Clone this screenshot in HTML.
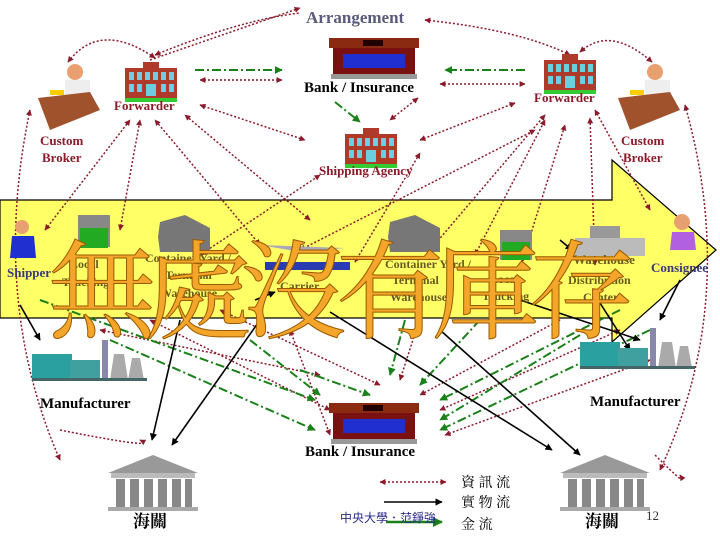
<!DOCTYPE html>
<html><head><meta charset="utf-8"><style>
html,body{margin:0;padding:0;background:#fff}
svg{display:block}
.lb{font-family:"Liberation Serif",serif;font-weight:bold;fill:#8b1a2a;font-size:13px}
.bk{font-family:"Liberation Serif",serif;font-weight:bold;fill:#000;font-size:15px}
.nv{font-family:"Liberation Serif",serif;font-weight:bold;fill:#3a3a7a;font-size:13px}
.tl{font-family:"Liberation Serif",serif;font-weight:bold;fill:#6a5a20;font-size:12px}
.r{stroke:#8b1a2a;stroke-width:1.5;stroke-dasharray:2 2;fill:none}
.g{stroke:#1a801a;stroke-width:2;stroke-dasharray:9 3 2 3;fill:none}
.k{stroke:#000;stroke-width:1.6;fill:none}
</style></head><body>
<svg width="720" height="540" viewBox="0 0 720 540" xmlns="http://www.w3.org/2000/svg">
<defs>
<marker id="mr" viewBox="0 0 10 10" refX="9" refY="5" markerWidth="4" markerHeight="4" orient="auto-start-reverse"><path d="M0,0L10,5L0,10z" fill="#8b1a2a"/></marker>
<marker id="mg" viewBox="0 0 10 10" refX="9" refY="5" markerWidth="4" markerHeight="4" orient="auto"><path d="M0,0L10,5L0,10z" fill="#1a801a"/></marker>
<marker id="mk" viewBox="0 0 10 10" refX="9" refY="5" markerWidth="4.5" markerHeight="4.5" orient="auto"><path d="M0,0L10,5L0,10z" fill="#000"/></marker>
<g id="bld"><rect x="0" y="6" width="52" height="32" fill="#b03a2a"/><rect x="18" y="0" width="16" height="8" fill="#b03a2a"/>
<g fill="#6ad0e0"><rect x="4" y="10" width="5" height="8"/><rect x="12" y="10" width="5" height="8"/><rect x="20" y="10" width="5" height="8"/><rect x="28" y="10" width="5" height="8"/><rect x="36" y="10" width="5" height="8"/><rect x="44" y="10" width="5" height="8"/><rect x="4" y="22" width="5" height="8"/><rect x="12" y="22" width="5" height="8"/><rect x="36" y="22" width="5" height="8"/><rect x="44" y="22" width="5" height="8"/><rect x="21" y="22" width="10" height="12"/></g>
<rect x="0" y="36" width="52" height="4" fill="#3c3"/></g>
<g id="bank"><rect x="0" y="8" width="82" height="28" fill="#7a1010"/><rect x="-4" y="0" width="90" height="10" fill="#8a2a10"/><rect x="30" y="2" width="20" height="6" fill="#200"/><rect x="10" y="16" width="62" height="14" fill="#2030d0"/><rect x="-2" y="36" width="86" height="5" fill="#999"/></g>
<g id="temple"><path d="M0,18L45,0L90,18z" fill="#999"/><rect x="3" y="18" width="84" height="5" fill="#bbb"/>
<g fill="#888"><rect x="8" y="24" width="9" height="28"/><rect x="22" y="24" width="9" height="28"/><rect x="36" y="24" width="9" height="28"/><rect x="50" y="24" width="9" height="28"/><rect x="64" y="24" width="9" height="28"/><rect x="77" y="24" width="7" height="28"/></g>
<rect x="0" y="52" width="90" height="4" fill="#aaa"/></g>
<g id="fac"><rect x="0" y="14" width="40" height="26" fill="#2aa0a0"/><rect x="38" y="20" width="30" height="20" fill="#40a0a0"/><rect x="70" y="0" width="6" height="40" fill="#8888aa"/><path d="M78,40L82,14L92,14L96,40z M96,40L100,18L108,18L112,40z" fill="#aaa"/><rect x="0" y="38" width="115" height="3" fill="#466"/></g>
</defs>

<!-- yellow arrow -->
<path d="M0,200 L612,200 L612,160 L716,250 L612,342 L612,318 L0,318 Z" fill="#ffff66" stroke="#000" stroke-width="1.2"/>

<!-- red dotted arcs -->
<g class="r" marker-start="url(#mr)" marker-end="url(#mr)">
<path d="M150,60 Q300,8 300,8" marker-start="none"/>
<path d="M155,55 Q240,20 300,13" marker-end="none"/>
<path d="M425,20 Q520,30 570,55"/>
<path d="M68,62 Q100,20 155,58"/>
<path d="M580,52 Q610,25 652,62"/>
<path d="M200,80 L282,80"/>
<path d="M440,84 L525,84"/>
<path d="M200,105 L305,140"/>
<path d="M420,140 L515,103"/>
<path d="M418,98 L390,120"/>
<path d="M30,110 Q-10,300 60,460"/>
<path d="M685,105 Q740,300 660,470"/>
<path d="M45,230 L130,120"/>
<path d="M120,230 L140,120"/>
<path d="M260,245 L155,120"/>
<path d="M310,220 L185,115"/>
<path d="M200,255 L320,175"/>
<path d="M355,262 L420,153"/>
<path d="M430,250 L545,115"/>
<path d="M475,255 L545,120"/>
<path d="M522,262 L565,125"/>
<path d="M595,265 L590,118"/>
<path d="M650,210 L595,110"/>
<path d="M300,250 L535,130"/>
<path d="M100,330 L320,375"/>
<path d="M150,320 L330,410"/>
<path d="M220,310 L380,385"/>
<path d="M290,330 L330,435"/>
<path d="M420,318 L400,380"/>
<path d="M560,320 L420,395"/>
<path d="M620,330 L440,410"/>
<path d="M650,360 L445,435"/>
<path d="M60,430 Q160,450 140,440" marker-start="none"/>
<path d="M655,455 Q690,490 680,475" marker-start="none"/>
</g>
<!-- green -->
<g class="g" marker-end="url(#mg)">
<path d="M195,70 L282,70"/>
<path d="M525,70 L445,70"/>
<path d="M335,102 L360,122"/>
<path d="M40,300 L315,400"/>
<path d="M110,340 L315,430"/>
<path d="M250,340 L320,395"/>
<path d="M300,370 L370,395"/>
<path d="M405,320 L390,375"/>
<path d="M480,320 L420,385"/>
<path d="M620,310 L440,400"/>
<path d="M650,330 L440,430"/>
<path d="M580,335 L440,420"/>
</g>
<!-- black -->
<g class="k" marker-end="url(#mk)">
<path d="M180,320 L152,440"/>
<path d="M260,320 L172,445"/>
<path d="M255,300 L275,292"/>
<path d="M560,240 L572,250"/>
<path d="M600,303 L630,350"/>
<path d="M520,300 L640,340"/>
<path d="M330,312 L552,450"/>
<path d="M440,330 L580,455"/>
<path d="M680,280 L660,320"/>
<path d="M20,305 L40,340"/>
</g>

<!-- icons -->
<use href="#bld" x="125" y="62"/>
<use href="#bld" x="544" y="54"/>
<use href="#bld" x="345" y="128"/>
<use href="#bank" x="333" y="38"/>
<use href="#bank" x="333" y="403"/>
<use href="#temple" x="108" y="455"/>
<use href="#temple" x="560" y="455"/>
<use href="#fac" x="32" y="340"/>
<use href="#fac" x="580" y="328"/>
<!-- brokers -->
<g><circle cx="75" cy="72" r="8" fill="#e8a070"/><rect x="65" y="80" width="25" height="25" fill="#eee"/><path d="M38,98 L90,92 L100,110 L50,130 Z" fill="#a0522d"/><rect x="50" y="90" width="14" height="5" fill="#fc0"/></g>
<g><circle cx="655" cy="72" r="8" fill="#e8a070"/><rect x="645" y="80" width="25" height="25" fill="#eee"/><path d="M618,98 L670,92 L680,110 L630,130 Z" fill="#a0522d"/><rect x="630" y="90" width="14" height="5" fill="#fc0"/></g>
<!-- shipper, consignee -->
<circle cx="22" cy="227" r="7" fill="#e8a070"/><path d="M10,258 L12,236 L34,236 L36,258Z" fill="#2030d0"/>
<circle cx="682" cy="222" r="8" fill="#e8a070"/><path d="M670,250 L672,232 L694,232 L696,250Z" fill="#b060e0"/>
<!-- band items -->
<rect x="78" y="215" width="32" height="32" fill="#888"/><rect x="80" y="228" width="28" height="20" fill="#2a2"/>
<rect x="500" y="230" width="32" height="30" fill="#888"/><rect x="502" y="242" width="28" height="18" fill="#2a2"/>
<path d="M158,237 L160,222 L185,215 L210,228 L210,252 L160,252Z" fill="#777"/>
<path d="M388,237 L390,222 L415,215 L440,228 L440,252 L390,252Z" fill="#777"/>
<path d="M260,245 L345,248 L300,252 Z" fill="#aab"/><rect x="265" y="262" width="85" height="8" fill="#2a3ab0"/>
<rect x="575" y="238" width="70" height="18" fill="#bbb"/><rect x="590" y="226" width="30" height="12" fill="#999"/>

<!-- labels -->
<text x="306" y="23" font-family="Liberation Serif,serif" font-weight="bold" font-size="17" fill="#5a5a7a">Arrangement</text>
<text class="bk" x="304" y="92">Bank / Insurance</text>
<text class="bk" x="305" y="456">Bank / Insurance</text>
<text class="lb" x="114" y="110">Forwarder</text>
<text class="lb" x="534" y="102">Forwarder</text>
<text class="lb" x="40" y="145">Custom</text><text class="lb" x="42" y="162">Broker</text>
<text class="lb" x="621" y="145">Custom</text><text class="lb" x="623" y="162">Broker</text>
<text class="lb" x="319" y="175" font-size="12">Shipping Agency</text>
<text class="nv" x="7" y="277">Shipper</text>
<text class="nv" x="651" y="272">Consignee</text>
<text class="tl" x="70" y="268">Local</text><text class="tl" x="62" y="286">Trucking</text>
<text class="tl" x="145" y="262">Container Yard /</text><text class="tl" x="165" y="279">Terminal</text><text class="tl" x="160" y="297">Warehouse</text>
<text class="tl" x="280" y="290">Carrier</text>
<text class="tl" x="385" y="268">Container Yard /</text><text class="tl" x="392" y="284">Terminal</text><text class="tl" x="390" y="301">Warehouse</text>
<text class="tl" x="490" y="283">Local</text><text class="tl" x="482" y="300">Trucking</text>
<text class="nv" x="573" y="264" fill="#6a5a20" style="fill:#6a5a20">Warehouse</text><text class="tl" x="568" y="284">Distribution</text><text class="tl" x="583" y="301">Center</text>
<text class="bk" x="40" y="408">Manufacturer</text>
<text class="bk" x="590" y="406">Manufacturer</text>
<text x="133" y="527" font-family="Liberation Serif,'Noto Serif CJK SC',serif" font-weight="bold" font-size="17">海關</text>
<text x="585" y="527" font-family="Liberation Serif,'Noto Serif CJK SC',serif" font-weight="bold" font-size="17">海關</text>
<text x="646" y="520" font-family="Liberation Serif,serif" font-size="13" fill="#333">12</text>

<!-- big calligraphy -->
<text x="48" y="330" font-family="'Noto Serif CJK SC',serif" font-size="108" fill="#f4a62a" stroke="#9a5a00" stroke-width="1" letter-spacing="-12">無處沒有庫存</text>

<!-- legend -->
<line x1="380" y1="482" x2="446" y2="482" class="r" marker-start="url(#mr)" marker-end="url(#mr)"/>
<line x1="384" y1="502" x2="442" y2="502" class="k" marker-end="url(#mk)"/>
<line x1="386" y1="522" x2="442" y2="522" stroke="#1a801a" stroke-width="2.5" marker-end="url(#mg)"/>
<g font-family="'Noto Serif CJK SC',serif" font-size="14" fill="#000"><text x="461" y="487">資 訊 流</text><text x="461" y="507">實 物 流</text><text x="461" y="529">金 流</text></g>
<text x="340" y="522" font-family="'Noto Sans CJK TC',sans-serif" font-size="12" fill="#2a2a8a">中央大學．范錚強</text>
</svg>
</body></html>
